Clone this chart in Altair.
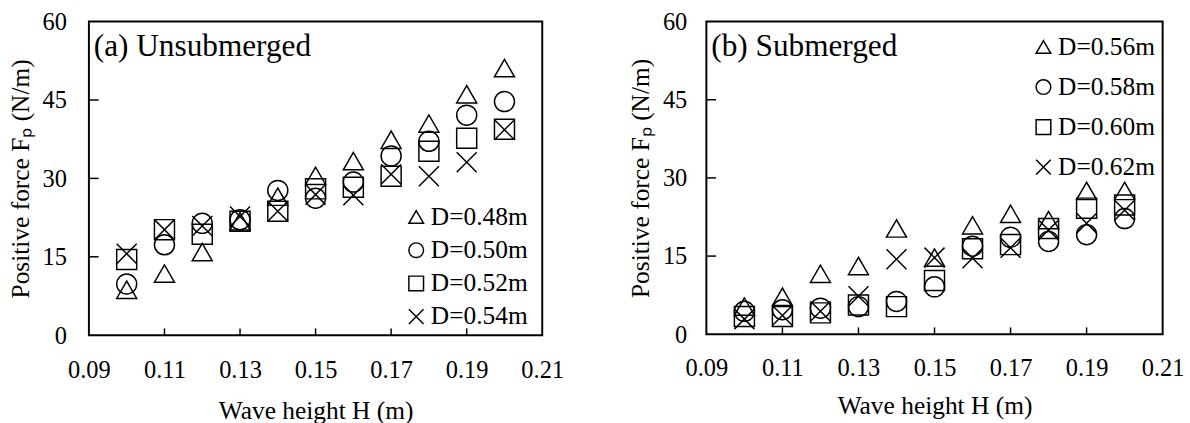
import altair as alt
import pandas as pd

# ---------------- data ----------------
H = [0.10, 0.11, 0.12, 0.13, 0.14, 0.15, 0.16, 0.17, 0.18, 0.19, 0.20]

# (a) Unsubmerged
a_labels = ["D=0.48m", "D=0.50m", "D=0.52m", "D=0.54m"]
a_D048 = [8.7, 11.8, 15.9, 21.8, 26.5, 30.5, 33.3, 37.4, 40.5, 46.1, 51.1]
a_D050 = [9.8, 17.3, 21.4, 22.1, 27.7, 26.2, 29.3, 34.3, 37.1, 42.1, 44.7]
a_D052 = [14.5, 20.2, 19.3, 21.8, 23.7, 28.0, 28.3, 30.4, 35.2, 37.7, 39.4]
a_D054 = [15.6, 20.2, 20.9, 22.7, 23.7, 26.9, 26.8, 30.8, 30.4, 33.1, 39.3]

# (b) Submerged
b_labels = ["D=0.56m", "D=0.58m", "D=0.60m", "D=0.62m"]
b_D056 = [5.3, 7.2, 11.6, 13.1, 20.3, 14.7, 20.9, 23.1, 21.9, 27.5, 27.5]
b_D058 = [4.4, 4.7, 5.0, 5.3, 6.3, 9.1, 16.9, 18.6, 17.8, 19.1, 22.2]
b_D060 = [3.4, 3.4, 4.1, 5.6, 5.3, 10.3, 16.4, 17.2, 20.3, 24.2, 24.8]
b_D062 = [2.9, 3.6, 4.4, 7.3, 14.4, 14.7, 14.6, 16.6, 20.0, 21.3, 23.8]

x_tick_values = [0.09, 0.11, 0.13, 0.15, 0.17, 0.19, 0.21]
y_tick_values = [0, 15, 30, 45, 60]
x_inner_ticks = [0.11, 0.13, 0.15, 0.17, 0.19]
y_inner_ticks = [15, 30, 45]

X_PATH = "M-1,-1L1,1M-1,1L1,-1"
SHAPES = ["triangle-up", "circle", "square", X_PATH]
FONT = "Liberation Serif"
AX = dict(domain=False, ticks=False, grid=False, labelFont=FONT, labelFontSize=25, labelColor="black",
          titleFont=FONT, titleFontSize=26, titleColor="black", titleFontWeight="normal")


def long_df(labels, series):
    rows = []
    for lab, vals in zip(labels, series):
        for h, v in zip(H, vals):
            rows.append({"H": h, "F": v, "D": lab})
    return pd.DataFrame(rows)


def panel(labels, series, panel_text, leg_x, leg_y, row_pad, w, h, y_lab_pad, x_lab_pad, x_title_pad):
    df = long_df(labels, series)
    xs = alt.Scale(domain=[0.09, 0.21], nice=False, zero=False)
    ys = alt.Scale(domain=[0, 60], nice=False)
    x_axis = alt.Axis(values=x_tick_values, format=".2f", title="Wave height H (m)",
                      labelFlush=False, labelPadding=x_lab_pad, titlePadding=x_title_pad, **AX)
    y_axis = alt.Axis(values=y_tick_values, title="Positive force F\u209a (N/m)",
                      labelPadding=y_lab_pad, titlePadding=9, **AX)

    pts = alt.Chart(df).mark_point(filled=False, color="black", strokeWidth=1.5, size=420, opacity=1).encode(
        x=alt.X("H:Q", scale=xs, axis=x_axis),
        y=alt.Y("F:Q", scale=ys, axis=y_axis),
        shape=alt.Shape("D:N", scale=alt.Scale(domain=labels, range=SHAPES),
                        legend=alt.Legend(orient="none", legendX=leg_x, legendY=leg_y, title=None,
                                          labelFont=FONT, labelFontSize=26, labelColor="black",
                                          symbolSize=225, symbolStrokeWidth=1.5,
                                          symbolStrokeColor="black", symbolFillColor="transparent",
                                          rowPadding=row_pad, labelOffset=2, padding=0)),
    )

    xt = alt.Chart(pd.DataFrame({"t": x_inner_ticks})).mark_rule(color="black", strokeWidth=1.5).encode(
        x=alt.X("t:Q", scale=xs, axis=x_axis), y=alt.value(h), y2=alt.value(h - 7))
    yt = alt.Chart(pd.DataFrame({"t": y_inner_ticks})).mark_rule(color="black", strokeWidth=1.5).encode(
        y=alt.Y("t:Q", scale=ys, axis=y_axis), x=alt.value(0), x2=alt.value(10))

    txt = alt.Chart(pd.DataFrame({"label": [panel_text]})).mark_text(
        align="left", baseline="middle", font=FONT, fontSize=32, color="black").encode(
        x=alt.value(5), y=alt.value(25), text="label:N")

    return alt.layer(pts, xt, yt, txt).properties(width=w, height=h)


left = panel(a_labels, [a_D048, a_D050, a_D052, a_D054], "(a) Unsubmerged",
             322, 187, 8, 464, 321, 23, 23, 16)
right = panel(b_labels, [b_D056, b_D058, b_D060, b_D062], "(b) Submerged",
              332, 13, 15, 467, 320, 20, 22, 13)

chart = alt.hconcat(left, right, spacing=64).resolve_scale(shape="independent").resolve_legend(
    shape="independent").properties(
    padding={"left": 7, "top": 4, "right": 5, "bottom": 5}, background="white").configure_view(
    stroke="black", strokeWidth=2)

chart.save("out.html", embed_options={"renderer": "svg", "actions": False})
